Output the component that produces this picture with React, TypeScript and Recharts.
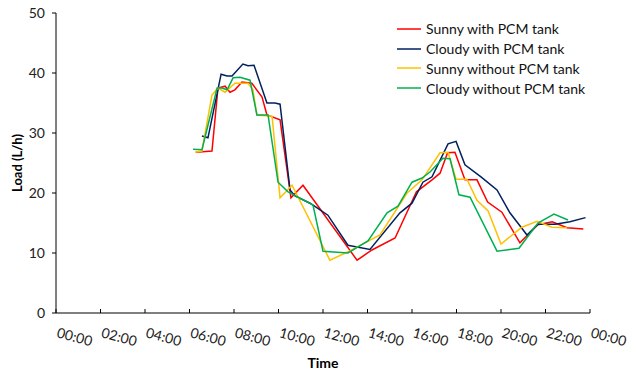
import React from 'react'
import { LineChart, Line, XAxis, YAxis, Legend } from 'recharts'

// hours of the day (0–24) and load (L/h)
const hourTicks = [0, 2, 4, 6, 8, 10, 12, 14, 16, 18, 20, 22, 24]
const loadTicks = [0, 10, 20, 30, 40, 50]

const sunnyPcmTime = [6.29, 7.01, 7.28, 7.6, 7.82, 8.04, 8.36, 8.8, 9.26, 9.48, 10.07, 10.56, 11.1, 13.53, 14.2, 15.24, 16.2, 16.9, 17.26, 17.6, 17.93, 18.38, 18.92, 19.4, 20.04, 20.85, 21.66, 22.3, 22.97, 23.7]
const sunnyPcmLoad = [26.8, 27.0, 37.5, 37.8, 36.8, 37.2, 38.5, 38.3, 36, 33, 32.2, 19.2, 21.3, 8.8, 10.5, 12.5, 20.2, 22.2, 23.3, 26.7, 26.8, 22.2, 22.2, 18.5, 16.8, 11.7, 14.7, 15.2, 14.2, 14]

const cloudyPcmTime = [6.56, 6.83, 7.42, 7.69, 7.91, 8.4, 8.63, 8.9, 9.48, 9.84, 10.07, 10.52, 10.74, 11.42, 12.22, 13.12, 14.11, 15.46, 16.0, 16.49, 16.9, 17.62, 17.98, 18.38, 19.1, 19.82, 20.4, 21.17, 21.66, 22.43, 23.1, 23.8]
const cloudyPcmLoad = [29.5, 29.2, 39.8, 39.5, 39.5, 41.5, 41.2, 41.3, 35, 35, 34.8, 20.5, 19.5, 18.3, 16.3, 11.3, 10.6, 16.7, 18.3, 21.8, 22.7, 28.2, 28.6, 24.7, 22.7, 20.5, 16.7, 13, 14.8, 14.8, 15.2, 15.9]

const sunnyNoPcmTime = [6.25, 6.56, 7.01, 7.28, 7.6, 8.04, 8.63, 8.85, 9.03, 9.71, 10.07, 10.61, 12.31, 13.12, 14.56, 15.78, 16.45, 17.26, 17.62, 17.98, 18.47, 18.92, 19.42, 20.0, 20.94, 21.62, 22.29, 22.97]
const sunnyNoPcmLoad = [26.8, 27, 36.3, 37.5, 36.8, 38.3, 38.3, 37.2, 33, 32.8, 19.2, 21.3, 8.8, 10.2, 13, 20, 22.2, 26.7, 26.8, 22.3, 22.3, 18.8, 17, 11.5, 14.3, 15.3, 14.3, 14.2]

const cloudyNoPcmTime = [6.16, 6.56, 7.24, 7.46, 7.69, 7.96, 8.27, 8.72, 9.03, 9.53, 9.98, 10.43, 11.55, 12.0, 13.12, 14.02, 14.88, 15.37, 16.0, 16.45, 16.81, 17.39, 17.71, 18.11, 18.61, 19.82, 20.81, 21.66, 22.38, 23.01]
const cloudyNoPcmLoad = [27.3, 27.2, 37.5, 37.5, 37.2, 39.2, 39.3, 38.8, 33, 33, 21.8, 20.2, 18, 10.3, 10, 12, 16.7, 17.8, 21.8, 22.5, 23.5, 25.8, 25.7, 19.7, 19.3, 10.3, 10.8, 15, 16.5, 15.5]

const seriesNames = ['Sunny with PCM tank', 'Cloudy with PCM tank', 'Sunny without PCM tank', 'Cloudy without PCM tank']
const seriesColors = ['#FF0000', '#002060', '#FFC000', '#00B050']

const toRows = (t: number[], v: number[]) => t.map((h, i) => ({ t: h, load: v[i] }))
const seriesData = [
  toRows(sunnyPcmTime, sunnyPcmLoad),
  toRows(cloudyPcmTime, cloudyPcmLoad),
  toRows(sunnyNoPcmTime, sunnyNoPcmLoad),
  toRows(cloudyNoPcmTime, cloudyNoPcmLoad),
]

const FONT = 'Lato, "Open Sans", sans-serif'

function TimeTick({ x, y, payload }: any) {
  const label = `${String(payload.value % 24).padStart(2, '0')}:00`
  const ty = y + 24
  return (
    <g>
      <line x1={x} y1={y} x2={x} y2={y - 4} stroke="#000" />
      <text x={x} y={ty} transform={`rotate(15 ${x} ${ty})`} fontSize={14} fill="#222" fontFamily={FONT}>{label}</text>
    </g>
  )
}

function LegendBox() {
  return (
    <div style={{ fontFamily: FONT, fontSize: 14, color: '#111' }}>
      {seriesNames.map((name, i) => (
        <div key={name} style={{ display: 'flex', alignItems: 'center', height: 19.8 }}>
          <svg width={24} height={10} style={{ marginRight: 5 }}>
            <line x1={0} y1={5} x2={24} y2={5} stroke={seriesColors[i]} strokeWidth={1.5} />
          </svg>
          <span style={{ whiteSpace: 'nowrap' }}>{name}</span>
        </div>
      ))}
    </div>
  )
}

export default function App() {
  return (
    <div style={{ position: 'absolute', left: 0, top: 0, width: 636, height: 373, background: '#fff' }}>
      <LineChart width={636} height={373} margin={{ top: 13, right: 46, bottom: 0, left: 0 }}>
        <XAxis dataKey="t" type="number" domain={[0, 24]} ticks={hourTicks} interval={0} height={60}
          axisLine={{ stroke: '#000' }} tickLine={false} tickSize={0} tickMargin={0} tick={<TimeTick />}
          allowDuplicatedCategory={false}
          label={{ value: 'Time', position: 'insideBottom', offset: 5, style: { fontWeight: 'bold', fontSize: 14, fill: '#000', fontFamily: FONT } }} />
        <XAxis xAxisId="top" orientation="top" type="number" domain={[0, 24]} height={0} tick={false} tickLine={false} axisLine={{ stroke: '#000' }} />
        <YAxis type="number" domain={[0, 50]} ticks={loadTicks} width={56} axisLine={{ stroke: '#000' }}
          tickLine={{ stroke: '#000' }} tickSize={4} tickMargin={7}
          tick={{ fontSize: 14, fill: '#222', fontFamily: FONT }}
          label={{ value: 'Load (L/h)', angle: -90, position: 'insideLeft', offset: 17, style: { textAnchor: 'middle', fontWeight: 'bold', fontSize: 13, fill: '#000', fontFamily: FONT } }} />
        <YAxis yAxisId="right" orientation="right" type="number" domain={[0, 50]} width={0} tick={false} tickLine={false} axisLine={{ stroke: '#000' }} />
        <Legend layout="vertical" align="center" verticalAlign="middle" content={<LegendBox />}
          wrapperStyle={{ left: 397, top: 19, width: 190 }} />
        {seriesData.map((d, i) => (
          <Line key={seriesNames[i]} data={d} dataKey="load" name={seriesNames[i]} type="linear"
            stroke={seriesColors[i]} strokeWidth={1.5} dot={false} isAnimationActive={false} />
        ))}
      </LineChart>
    </div>
  )
}
